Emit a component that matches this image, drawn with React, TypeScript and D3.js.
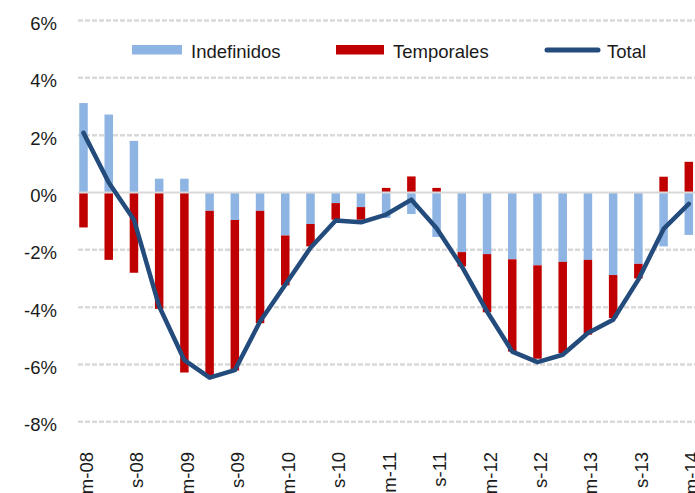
import React, { useEffect, useRef } from 'react'
import * as d3 from 'd3'

// quarters: m = marzo, j = junio, s = septiembre, d = diciembre
const quarters = [
  'm-08', 'j-08', 's-08', 'd-08',
  'm-09', 'j-09', 's-09', 'd-09',
  'm-10', 'j-10', 's-10', 'd-10',
  'm-11', 'j-11', 's-11', 'd-11',
  'm-12', 'j-12', 's-12', 'd-12',
  'm-13', 'j-13', 's-13', 'd-13',
  'm-14'
]

const indefinidos = [
  3.12, 2.72, 1.8, 0.48, 0.48, -0.64, -0.96, -0.64, -1.5, -1.1, -0.37, -0.51, -0.89,
  -0.75, -1.55, -2.08, -2.15, -2.33, -2.54, -2.42, -2.35, -2.88, -2.49, -1.88, -1.48
]
const temporales = [
  -1.22, -2.35, -2.8, -4.06, -6.28, -5.75, -5.25, -3.92, -1.74, -0.78, -0.58, -0.44, 0.16,
  0.56, 0.16, -0.5, -2.03, -3.22, -3.26, -3.18, -2.61, -1.5, -0.51, 0.55, 1.07
]
const total = [
  2.08, 0.35, -0.95, -3.97, -5.85, -6.46, -6.2, -4.5, -3.22, -1.93, -0.98, -1.04, -0.77,
  -0.25, -1.25, -2.58, -4.15, -5.55, -5.92, -5.66, -4.9, -4.44, -3.04, -1.27, -0.4
]
const yTicks = [6, 4, 2, 0, -2, -4, -6, -8]

const W = 695
const H = 493
const BLUE = '#8DB4E2'
const RED = '#C00000'
const NAVY = '#234B7C'
const FONT = '"Liberation Sans", Arial, Helvetica, sans-serif'

export default function App() {
  const ref = useRef<SVGSVGElement>(null)

  useEffect(() => {
    const svg = d3.select(ref.current)
    svg.selectAll('*').remove()

    const x = d3.scalePoint<string>().domain(quarters).range([83.5, 688.8])
    const y = d3.scaleLinear().domain([-8, 6]).range([421.8, 20.5])
    const barW = 8.5

    // gridlines
    svg.append('g')
      .selectAll('line')
      .data(yTicks.filter(t => t !== 0))
      .enter()
      .append('line')
        .attr('x1', 78)
        .attr('x2', W)
        .attr('y1', d => y(d))
        .attr('y2', d => y(d))
        .attr('stroke', '#D9D9D9')
        .attr('stroke-width', 2.5)
        .attr('stroke-dasharray', '5,2')

    // y labels
    svg.append('g')
      .selectAll('text')
      .data(yTicks)
      .enter()
      .append('text')
        .attr('x', 57)
        .attr('y', d => y(d) + 9.5)
        .attr('text-anchor', 'end')
        .attr('font-family', FONT)
        .attr('font-size', 18.5)
        .attr('fill', '#1a1a1a')
        .text(d => `${d}%`)

    // stacked bars
    const rows = quarters.map((q, i) => ({ q, indefinidos: indefinidos[i], temporales: temporales[i] }))
    const stacked = d3.stack<any>()
      .keys(['indefinidos', 'temporales'])
      .offset(d3.stackOffsetDiverging)(rows)
    const colors: Record<string, string> = { indefinidos: BLUE, temporales: RED }

    stacked.forEach(layer => {
      svg.append('g')
        .selectAll('rect')
        .data(layer)
        .enter()
        .append('rect')
          .attr('x', d => (x(d.data.q) as number) - barW / 2)
          .attr('y', d => y(Math.max(d[0], d[1])))
          .attr('width', barW)
          .attr('height', d => Math.abs(y(d[0]) - y(d[1])))
          .attr('fill', colors[layer.key])
    })

    // zero line
    svg.append('line')
      .attr('x1', 78)
      .attr('x2', W)
      .attr('y1', y(0))
      .attr('y2', y(0))
      .attr('stroke', '#D9D9D9')
      .attr('stroke-width', 2)

    // total line
    const line = d3.line<number>()
      .x((d, i) => x(quarters[i]) as number)
      .y(d => y(d))
    svg.append('path')
      .datum(total)
      .attr('d', line)
      .attr('fill', 'none')
      .attr('stroke', NAVY)
      .attr('stroke-width', 4.5)
      .attr('stroke-linejoin', 'round')
      .attr('stroke-linecap', 'round')

    // x labels, every other quarter
    svg.append('g')
      .selectAll('text')
      .data(quarters.filter((q, i) => i % 2 === 0))
      .enter()
      .append('text')
        .attr('transform', d => `translate(${(x(d) as number) + 9.5},452) rotate(-90)`)
        .attr('text-anchor', 'end')
        .attr('font-family', FONT)
        .attr('font-size', 18.5)
        .attr('fill', '#1a1a1a')
        .text(d => d)

    // legend
    const legend = svg.append('g').attr('font-family', FONT).attr('font-size', 18.5).attr('fill', '#1a1a1a')
    legend.append('rect').attr('x', 132).attr('y', 45).attr('width', 50).attr('height', 9.5).attr('fill', BLUE)
    legend.append('text').attr('x', 191).attr('y', 58).text('Indefinidos')
    legend.append('rect').attr('x', 336).attr('y', 45).attr('width', 48).attr('height', 9.5).attr('fill', RED)
    legend.append('text').attr('x', 393).attr('y', 58).text('Temporales')
    legend.append('line')
      .attr('x1', 547).attr('x2', 598).attr('y1', 50).attr('y2', 50)
      .attr('stroke', NAVY).attr('stroke-width', 5).attr('stroke-linecap', 'round')
    legend.append('text').attr('x', 607).attr('y', 58).text('Total')
  }, [])

  return (
    <svg
      ref={ref}
      width={W}
      height={H}
      style={{ position: 'absolute', left: 0, top: 0, background: '#fff' }}
    />
  )
}
